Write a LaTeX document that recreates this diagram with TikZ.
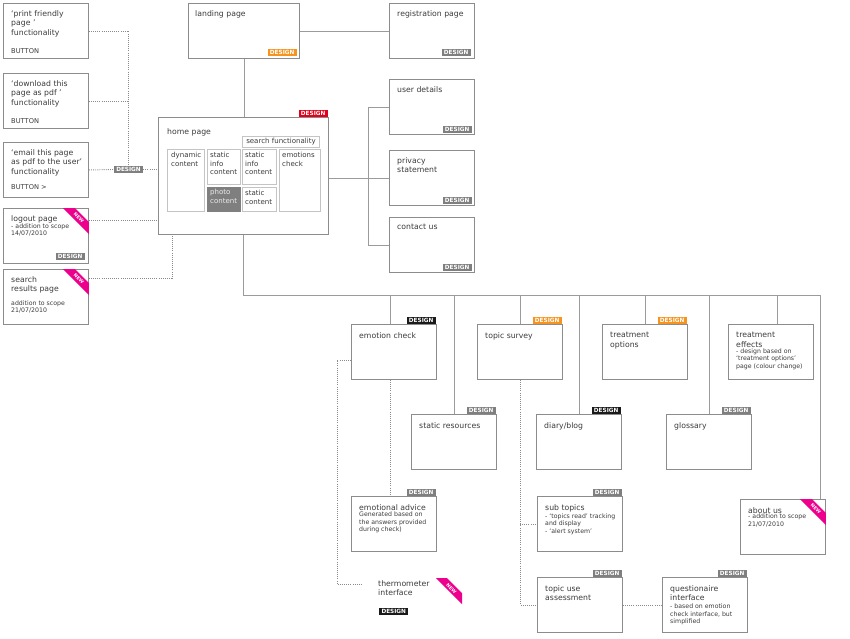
\documentclass[tikz,border=0pt]{standalone}
\usepackage{fontspec}
\setmainfont{DejaVu Sans}
\definecolor{boxline}{HTML}{8C8C8C}
\definecolor{wire}{HTML}{9B9B9B}
\definecolor{dotline}{HTML}{8A8A8A}
\definecolor{txt}{HTML}{3A3A3A}
\definecolor{innerline}{HTML}{C4C4C4}
\definecolor{dsgngray}{HTML}{7F7F7F}
\definecolor{dsgnorange}{HTML}{F7941D}
\definecolor{dsgnred}{HTML}{E2001A}
\definecolor{dsgnblack}{HTML}{1A1A1A}
\definecolor{newpink}{HTML}{EC008C}
\tikzset{
  page/.style={draw=boxline,line width=0.8pt,rectangle,anchor=north west,
    minimum width=2.55cm,minimum height=1.65cm,inner sep=0},
  ttl/.style={anchor=north west,inner sep=0,align=left,text=txt,
    font=\fontsize{6.6}{8.1}\selectfont},
  note/.style={anchor=north west,inner sep=0,align=left,text=txt,
    font=\fontsize{5.3}{6.3}\selectfont},
  btn/.style={note,font=\fontsize{5.7}{6.8}\selectfont},
  dsgn/.style={fill=#1,text=white,inner sep=0,minimum width=0.87cm,
    minimum height=0.21cm,font=\fontsize{4.9}{5}\selectfont\bfseries},
  newtxt/.style={text=white,inner sep=0,rotate=-45,
    font=\fontsize{4}{4}\selectfont\bfseries},
  wire/.style={draw=wire,line width=0.8pt},
  dots/.style={draw=dotline,line width=0.8pt,dash pattern=on 0.8pt off 1pt},
  cell/.style={draw=innerline,line width=0.8pt,anchor=north west,inner sep=0},
  ctext/.style={anchor=north west,inner sep=0,align=left,text=txt,
    font=\fontsize{6}{7.2}\selectfont},
}
% pink NEW ribbon across the top right corner of a page
\newcommand\newflag[1]{%
  \fill[newpink] ([shift={(-26,0)}]#1.north east) -- ([shift={(-14,0)}]#1.north east)
    -- ([shift={(0,14)}]#1.north east) -- ([shift={(0,26)}]#1.north east) -- cycle;
  \node[newtxt] (#1new) at ([shift={(-10,10)}]#1.north east) {NEW};}
\begin{document}
\begin{tikzpicture}[x=0.03cm,y=-0.03cm]
\useasboundingbox (0,0) rectangle (850,638);

% left column: buttons and extra pages
\node[page] (print) at (3,3) {};
\node[ttl] (printT) at ([shift={(8,7)}]print.north west) {‘print friendly\\page ’\\functionality};
\node[btn] (printB) at ([shift={(0,11)}]printT.south west) {BUTTON};
\node[page] (download) at (3,73) {};
\node[ttl] (downloadT) at ([shift={(8,7)}]download.north west) {‘download this\\page as pdf ’\\functionality};
\node[btn] (downloadB) at ([shift={(0,11)}]downloadT.south west) {BUTTON};
\node[page] (email) at (3,142) {};
\node[ttl] (emailT) at ([shift={(8,7)}]email.north west) {‘email this page\\as pdf to the user’\\functionality};
\node[btn] (emailB) at ([shift={(0,8)}]emailT.south west) {BUTTON >};
\node[page] (logout) at (3,208) {};
\node[ttl] (logoutT) at ([shift={(8,7)}]logout.north west) {logout page};
\node[note] (logoutN) at ([shift={(0,0.5)}]logoutT.south west) {- addition to scope\\14/07/2010};
\node[dsgn=dsgngray,anchor=south east] (logoutD) at ([shift={(-4,-4)}]logout.south east) {DESIGN};
\node[page] (sresults) at (3,269) {};
\node[ttl] (sresultsT) at ([shift={(8,7)}]sresults.north west) {search\\results page};
\node[note] (sresultsN) at ([shift={(0,7)}]sresultsT.south west) {addition to scope\\21/07/2010};
\newflag{logout}
\newflag{sresults}

\node[dsgn=dsgngray] (dsgnmid) at (128.5,169.5) {DESIGN};

% top row
\node[page,minimum width=3.33cm] (landing) at (188,3) {};
\node[ttl] (landingT) at ([shift={(7,7)}]landing.north west) {landing page};
\node[dsgn=dsgnorange,anchor=south east] (landingD) at ([shift={(-3,-3)}]landing.south east) {DESIGN};
\node[page] (regist) at (389,3) {};
\node[ttl] (registT) at ([shift={(8,7)}]regist.north west) {registration page};
\node[dsgn=dsgngray,anchor=south east] (registD) at ([shift={(-4,-3)}]regist.south east) {DESIGN};

% home page with its content blocks
\node[page,minimum width=5.1cm,minimum height=3.51cm] (home) at (158,117) {};
\node[dsgn=dsgnred,anchor=south east] (homeD) at ([shift={(-1,0)}]home.north east) {DESIGN};
\node[ttl] (homeT) at ([shift={(9,11)}]home.north west) {home page};
\node[cell,minimum width=2.31cm,minimum height=0.33cm,text=txt,font=\fontsize{6}{7.2}\selectfont] (searchf) at (242,136) {search functionality};
\node[cell,minimum width=1.11cm,minimum height=1.86cm] (dynamic) at (167,149) {};
\node[ctext] (dynamicT) at ([shift={(4,3)}]dynamic.north west) {dynamic\\content};
\node[cell,minimum width=0.99cm,minimum height=1.05cm] (sinfoA) at (207,149) {};
\node[ctext] (sinfoAT) at ([shift={(3,3)}]sinfoA.north west) {static\\info\\content};
\node[cell,draw=dsgngray,fill=dsgngray,minimum width=0.99cm,minimum height=0.72cm] (photo) at (207,187) {};
\node[ctext,text=white!85!gray] (photoT) at ([shift={(3,2)}]photo.north west) {photo\\content};
\node[cell,minimum width=1.02cm,minimum height=1.05cm] (sinfoB) at (242,149) {};
\node[ctext] (sinfoBT) at ([shift={(3,3)}]sinfoB.north west) {static\\info\\content};
\node[cell,minimum width=1.02cm,minimum height=0.72cm] (scontent) at (242,187) {};
\node[ctext] (scontentT) at ([shift={(3,3)}]scontent.north west) {static\\content};
\node[cell,minimum width=1.23cm,minimum height=1.86cm] (emotions) at (279,149) {};
\node[ctext] (emotionsT) at ([shift={(3,3)}]emotions.north west) {emotions\\check};

% right column
\node[page] (userdet) at (389,79) {};
\node[ttl] (userdetT) at ([shift={(8,7)}]userdet.north west) {user details};
\node[dsgn=dsgngray,anchor=south east] (userdetD) at ([shift={(-3,-2)}]userdet.south east) {DESIGN};
\node[page] (privacy) at (389,150) {};
\node[ttl] (privacyT) at ([shift={(8,7)}]privacy.north west) {privacy\\statement};
\node[dsgn=dsgngray,anchor=south east] (privacyD) at ([shift={(-3,-2)}]privacy.south east) {DESIGN};
\node[page] (contact) at (389,217) {};
\node[ttl] (contactT) at ([shift={(8,7)}]contact.north west) {contact us};
\node[dsgn=dsgngray,anchor=south east] (contactD) at ([shift={(-3,-2)}]contact.south east) {DESIGN};

% site sections
\node[page] (emocheck) at (351,324) {};
\node[ttl] (emocheckT) at ([shift={(8,8)}]emocheck.north west) {emotion check};
\node[dsgn=dsgnblack,anchor=south east] (emocheckD) at ([shift={(-1,0)}]emocheck.north east) {DESIGN};
\node[page] (tsurvey) at (477,324) {};
\node[ttl] (tsurveyT) at ([shift={(8,8)}]tsurvey.north west) {topic survey};
\node[dsgn=dsgnorange,anchor=south east] (tsurveyD) at ([shift={(-1,0)}]tsurvey.north east) {DESIGN};
\node[page] (treatopt) at (602,324) {};
\node[ttl] (treatoptT) at ([shift={(8,8)}]treatopt.north west) {treatment\\options};
\node[dsgn=dsgnorange,anchor=south east] (treatoptD) at ([shift={(-1,0)}]treatopt.north east) {DESIGN};
\node[page] (treateff) at (728,324) {};
\node[ttl] (treateffT) at ([shift={(8,8)}]treateff.north west) {treatment\\effects};
\node[note] (treateffN) at ([shift={(0,1)}]treateffT.south west) {- design based on\\‘treatment options’\\page (colour change)};

\node[page] (statres) at (411,414) {};
\node[ttl] (statresT) at ([shift={(8,8)}]statres.north west) {static resources};
\node[dsgn=dsgngray,anchor=south east] (statresD) at ([shift={(-1,0)}]statres.north east) {DESIGN};
\node[page] (diary) at (536,414) {};
\node[ttl] (diaryT) at ([shift={(8,8)}]diary.north west) {diary/blog};
\node[dsgn=dsgnblack,anchor=south east] (diaryD) at ([shift={(-1,0)}]diary.north east) {DESIGN};
\node[page] (glossary) at (666,414) {};
\node[ttl] (glossaryT) at ([shift={(8,8)}]glossary.north west) {glossary};
\node[dsgn=dsgngray,anchor=south east] (glossaryD) at ([shift={(-1,0)}]glossary.north east) {DESIGN};

\node[page] (emoadvice) at (351,496) {};
\node[ttl] (emoadviceT) at ([shift={(8,8)}]emoadvice.north west) {emotional advice};
\node[note] (emoadviceN) at ([shift={(0,1.5)}]emoadviceT.south west) {Generated based on\\the answers provided\\during check)};
\node[dsgn=dsgngray,anchor=south east] (emoadviceD) at ([shift={(-1,0)}]emoadvice.north east) {DESIGN};
\node[page] (subtopics) at (537,496) {};
\node[ttl] (subtopicsT) at ([shift={(8,8)}]subtopics.north west) {sub topics};
\node[note] (subtopicsN) at ([shift={(0,1.5)}]subtopicsT.south west) {- ‘topics read’ tracking\\and display\\- ‘alert system’};
\node[dsgn=dsgngray,anchor=south east] (subtopicsD) at ([shift={(-1,0)}]subtopics.north east) {DESIGN};
\node[page] (aboutus) at (740,499) {};
\node[ttl] (aboutusT) at ([shift={(8,8)}]aboutus.north west) {about us};
\node[note] (aboutusN) at ([shift={(0,0.5)}]aboutusT.south west) {- addition to scope\\21/07/2010};
\newflag{aboutus}

\node[page] (topicuse) at (537,577) {};
\node[ttl] (topicuseT) at ([shift={(8,8)}]topicuse.north west) {topic use\\assessment};
\node[dsgn=dsgngray,anchor=south east] (topicuseD) at ([shift={(-1,0)}]topicuse.north east) {DESIGN};
\node[page] (quest) at (662,577) {};
\node[ttl] (questT) at ([shift={(8,8)}]quest.north west) {questionaire\\interface};
\node[note] (questN) at ([shift={(0,3)}]questT.south west) {- based on emotion\\check interface, but\\simplified};
\node[dsgn=dsgngray,anchor=south east] (questD) at ([shift={(-1,0)}]quest.north east) {DESIGN};

\node[ttl] (thermo) at (378,580) {thermometer\\interface};
\node[dsgn=dsgnblack,anchor=north west] (thermoD) at (379,608) {DESIGN};
\fill[newpink] (436,578) -- (447,578) -- (462,593) -- (462,604) -- cycle;
\node[newtxt] (thermonew) at (451.5,588.5) {NEW};
\coordinate (thermoin) at (362,584);

% connectors
\draw[wire] (landing.east) -- (regist.west);
\draw[wire] (landing.south) -- (landing.south |- home.north);
\coordinate (rjoin) at (368,177.5);
\draw[wire] (home.east |- privacy.west) -- (privacy.west);
\draw[wire] (userdet.west) -| (rjoin |- contact.west) -- (contact.west);
\coordinate (busR) at (820,295);
\draw[wire] (home.south) |- (busR) -- (busR |- aboutus.north);
\draw[wire] ([shift={(-4,0)}]emocheck.north) -- ([shift={(-4,0)}]emocheck.north |- busR);
\draw[wire] (statres.north) -- (statres.north |- busR);
\draw[wire] (tsurvey.north) -- (tsurvey.north |- busR);
\draw[wire] (diary.north) -- (diary.north |- busR);
\draw[wire] (treatopt.north) -- (treatopt.north |- busR);
\draw[wire] (glossary.north) -- (glossary.north |- busR);
\draw[wire] ([shift={(6,0)}]treateff.north) -- ([shift={(6,0)}]treateff.north |- busR);

\draw[dots] (print.east) -| (dsgnmid.north);
\draw[dots] (download.east) -- (download.east -| dsgnmid.north);
\draw[dots] (email.east) -- (dsgnmid.west);
\draw[dots] (dsgnmid.east) -- (dsgnmid.east -| home.west);
\draw[dots] ([shift={(0,-15.5)}]logout.east) -- ([shift={(0,-15.5)}]logout.east -| home.west);
\draw[dots] ([shift={(0,-19)}]sresults.east) -| ([shift={(14,0)}]home.south west);
\draw[dots] ([shift={(0,8.5)}]emocheck.west) -- ++(-14,0) |- (thermoin);
\draw[dots] ([shift={(-4,0)}]emocheck.south) -- ([shift={(-4,0)}]emoadvice.north);
\draw[dots] (tsurvey.south) |- (topicuse.west);
\draw[dots] (tsurvey.south |- subtopics.west) -- (subtopics.west);
\draw[dots] (topicuse.east) -- (quest.west);
\end{tikzpicture}
\end{document}
